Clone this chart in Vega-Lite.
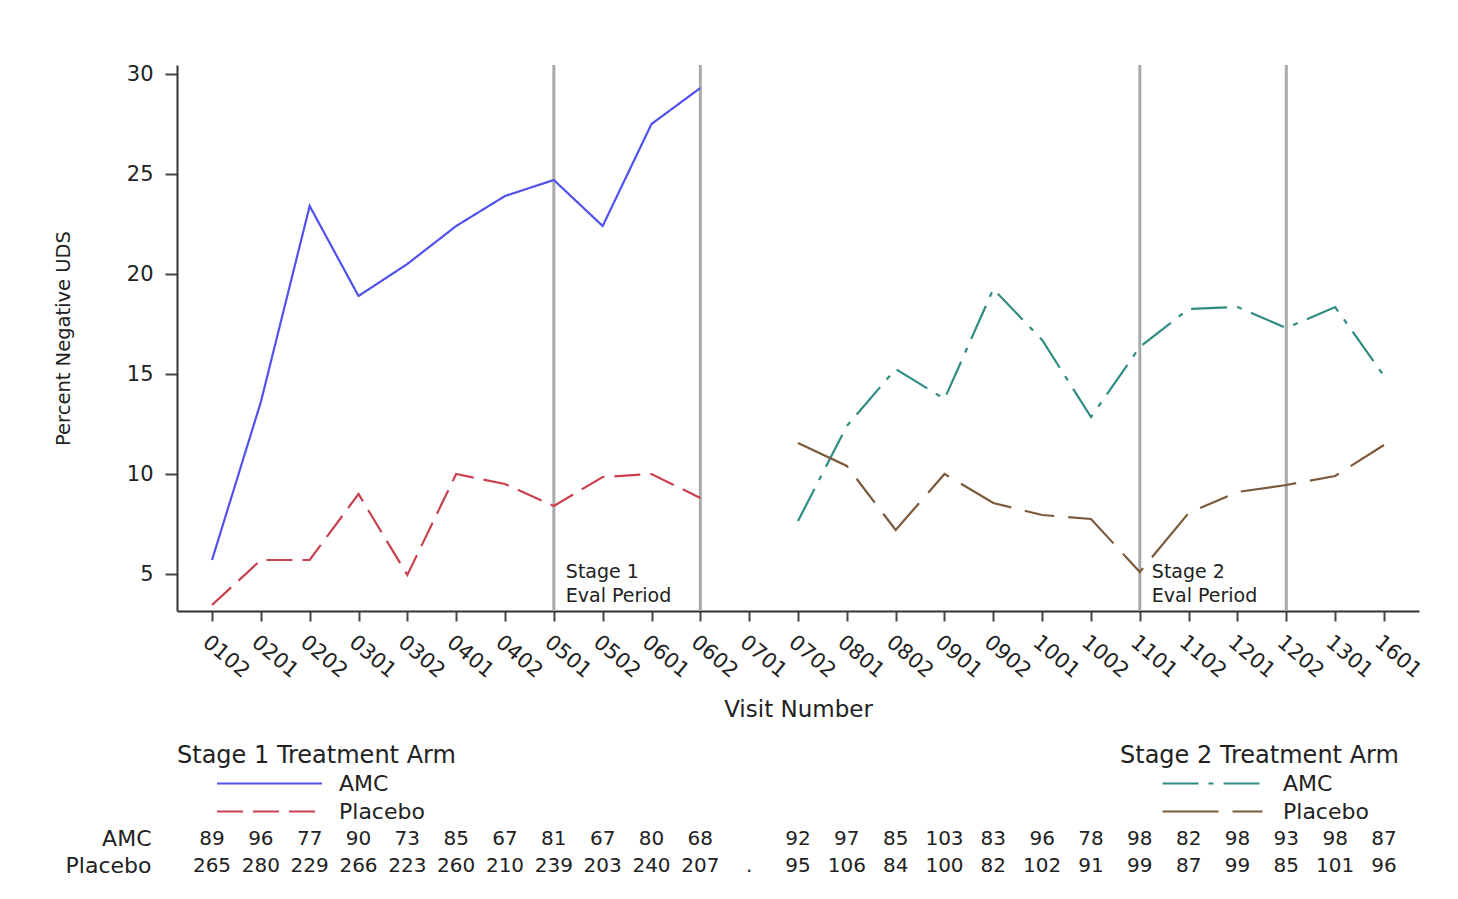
{
  "$schema": "https://vega.github.io/schema/vega-lite/v6.json",
  "background": "white",
  "padding": {"left": 53, "top": 62, "right": 5, "bottom": 5},
  "spacing": 2,
  "config": {
    "font": "DejaVu Sans",
    "view": {"stroke": null},
    "axis": {
      "grid": false,
      "domainColor": "#333333",
      "domainWidth": 2,
      "tickColor": "#444444",
      "tickWidth": 2,
      "labelColor": "#222222",
      "titleColor": "#222222",
      "titleFontWeight": "normal"
    },
    "legend": {
      "orient": "none",
      "padding": 0,
      "symbolType": "M-5,0H5",
      "symbolSize": 441,
      "symbolStrokeWidth": 2,
      "labelFontSize": 22,
      "labelColor": "#222222",
      "titleFontSize": 24,
      "titleFontWeight": "normal",
      "titleColor": "#222222",
      "titleLimit": 400,
      "titlePadding": 4,
      "rowPadding": 5
    }
  },
  "datasets": {
    "pct": [
      {"stage": 1, "arm": "AMC", "visit": "0102", "pct": 5.7},
      {"stage": 1, "arm": "AMC", "visit": "0201", "pct": 13.6},
      {"stage": 1, "arm": "AMC", "visit": "0202", "pct": 23.4},
      {"stage": 1, "arm": "AMC", "visit": "0301", "pct": 18.9},
      {"stage": 1, "arm": "AMC", "visit": "0302", "pct": 20.5},
      {"stage": 1, "arm": "AMC", "visit": "0401", "pct": 22.4},
      {"stage": 1, "arm": "AMC", "visit": "0402", "pct": 23.9},
      {"stage": 1, "arm": "AMC", "visit": "0501", "pct": 24.7},
      {"stage": 1, "arm": "AMC", "visit": "0502", "pct": 22.4},
      {"stage": 1, "arm": "AMC", "visit": "0601", "pct": 27.5},
      {"stage": 1, "arm": "AMC", "visit": "0602", "pct": 29.3},
      {"stage": 1, "arm": "Placebo", "visit": "0102", "pct": 3.45},
      {"stage": 1, "arm": "Placebo", "visit": "0201", "pct": 5.7},
      {"stage": 1, "arm": "Placebo", "visit": "0202", "pct": 5.7},
      {"stage": 1, "arm": "Placebo", "visit": "0301", "pct": 9.0},
      {"stage": 1, "arm": "Placebo", "visit": "0302", "pct": 4.95},
      {"stage": 1, "arm": "Placebo", "visit": "0401", "pct": 10.0},
      {"stage": 1, "arm": "Placebo", "visit": "0402", "pct": 9.5},
      {"stage": 1, "arm": "Placebo", "visit": "0501", "pct": 8.4},
      {"stage": 1, "arm": "Placebo", "visit": "0502", "pct": 9.85},
      {"stage": 1, "arm": "Placebo", "visit": "0601", "pct": 10.0},
      {"stage": 1, "arm": "Placebo", "visit": "0602", "pct": 8.8},
      {"stage": 2, "arm": "AMC", "visit": "0702", "pct": 7.65},
      {"stage": 2, "arm": "AMC", "visit": "0801", "pct": 12.4},
      {"stage": 2, "arm": "AMC", "visit": "0802", "pct": 15.25},
      {"stage": 2, "arm": "AMC", "visit": "0901", "pct": 13.75},
      {"stage": 2, "arm": "AMC", "visit": "0902", "pct": 19.25},
      {"stage": 2, "arm": "AMC", "visit": "1001", "pct": 16.7},
      {"stage": 2, "arm": "AMC", "visit": "1002", "pct": 12.85},
      {"stage": 2, "arm": "AMC", "visit": "1101", "pct": 16.35},
      {"stage": 2, "arm": "AMC", "visit": "1102", "pct": 18.25},
      {"stage": 2, "arm": "AMC", "visit": "1201", "pct": 18.35},
      {"stage": 2, "arm": "AMC", "visit": "1202", "pct": 17.3},
      {"stage": 2, "arm": "AMC", "visit": "1301", "pct": 18.35},
      {"stage": 2, "arm": "AMC", "visit": "1601", "pct": 14.9},
      {"stage": 2, "arm": "Placebo", "visit": "0702", "pct": 11.55},
      {"stage": 2, "arm": "Placebo", "visit": "0801", "pct": 10.4},
      {"stage": 2, "arm": "Placebo", "visit": "0802", "pct": 7.2},
      {"stage": 2, "arm": "Placebo", "visit": "0901", "pct": 10.0},
      {"stage": 2, "arm": "Placebo", "visit": "0902", "pct": 8.55},
      {"stage": 2, "arm": "Placebo", "visit": "1001", "pct": 7.95},
      {"stage": 2, "arm": "Placebo", "visit": "1002", "pct": 7.75},
      {"stage": 2, "arm": "Placebo", "visit": "1101", "pct": 5.1},
      {"stage": 2, "arm": "Placebo", "visit": "1102", "pct": 8.05},
      {"stage": 2, "arm": "Placebo", "visit": "1201", "pct": 9.1},
      {"stage": 2, "arm": "Placebo", "visit": "1202", "pct": 9.45},
      {"stage": 2, "arm": "Placebo", "visit": "1301", "pct": 9.9},
      {"stage": 2, "arm": "Placebo", "visit": "1601", "pct": 11.45}
    ],
    "evalLines": [
      {"visit": "0501"}, {"visit": "0602"}, {"visit": "1101"}, {"visit": "1202"}
    ],
    "evalLabels": [
      {"visit": "0501", "label": "Stage 1\nEval Period"},
      {"visit": "1101", "label": "Stage 2\nEval Period"}
    ],
    "counts": [
      {"row": "AMC", "visit": "0102", "n": "89"},
      {"row": "AMC", "visit": "0201", "n": "96"},
      {"row": "AMC", "visit": "0202", "n": "77"},
      {"row": "AMC", "visit": "0301", "n": "90"},
      {"row": "AMC", "visit": "0302", "n": "73"},
      {"row": "AMC", "visit": "0401", "n": "85"},
      {"row": "AMC", "visit": "0402", "n": "67"},
      {"row": "AMC", "visit": "0501", "n": "81"},
      {"row": "AMC", "visit": "0502", "n": "67"},
      {"row": "AMC", "visit": "0601", "n": "80"},
      {"row": "AMC", "visit": "0602", "n": "68"},
      {"row": "AMC", "visit": "0702", "n": "92"},
      {"row": "AMC", "visit": "0801", "n": "97"},
      {"row": "AMC", "visit": "0802", "n": "85"},
      {"row": "AMC", "visit": "0901", "n": "103"},
      {"row": "AMC", "visit": "0902", "n": "83"},
      {"row": "AMC", "visit": "1001", "n": "96"},
      {"row": "AMC", "visit": "1002", "n": "78"},
      {"row": "AMC", "visit": "1101", "n": "98"},
      {"row": "AMC", "visit": "1102", "n": "82"},
      {"row": "AMC", "visit": "1201", "n": "98"},
      {"row": "AMC", "visit": "1202", "n": "93"},
      {"row": "AMC", "visit": "1301", "n": "98"},
      {"row": "AMC", "visit": "1601", "n": "87"},
      {"row": "Placebo", "visit": "0102", "n": "265"},
      {"row": "Placebo", "visit": "0201", "n": "280"},
      {"row": "Placebo", "visit": "0202", "n": "229"},
      {"row": "Placebo", "visit": "0301", "n": "266"},
      {"row": "Placebo", "visit": "0302", "n": "223"},
      {"row": "Placebo", "visit": "0401", "n": "260"},
      {"row": "Placebo", "visit": "0402", "n": "210"},
      {"row": "Placebo", "visit": "0501", "n": "239"},
      {"row": "Placebo", "visit": "0502", "n": "203"},
      {"row": "Placebo", "visit": "0601", "n": "240"},
      {"row": "Placebo", "visit": "0602", "n": "207"},
      {"row": "Placebo", "visit": "0701", "n": "."},
      {"row": "Placebo", "visit": "0702", "n": "95"},
      {"row": "Placebo", "visit": "0801", "n": "106"},
      {"row": "Placebo", "visit": "0802", "n": "84"},
      {"row": "Placebo", "visit": "0901", "n": "100"},
      {"row": "Placebo", "visit": "0902", "n": "82"},
      {"row": "Placebo", "visit": "1001", "n": "102"},
      {"row": "Placebo", "visit": "1002", "n": "91"},
      {"row": "Placebo", "visit": "1101", "n": "99"},
      {"row": "Placebo", "visit": "1102", "n": "87"},
      {"row": "Placebo", "visit": "1201", "n": "99"},
      {"row": "Placebo", "visit": "1202", "n": "85"},
      {"row": "Placebo", "visit": "1301", "n": "101"},
      {"row": "Placebo", "visit": "1601", "n": "96"}
    ]
  },
  "vconcat": [
    {
      "width": 1242,
      "height": 546,
      "encoding": {
        "x": {
          "field": "visit",
          "type": "ordinal",
          "scale": {
            "type": "point",
            "padding": 0.717,
            "domain": ["0102", "0201", "0202", "0301", "0302", "0401", "0402", "0501", "0502", "0601", "0602", "0701", "0702", "0801", "0802", "0901", "0902", "1001", "1002", "1101", "1102", "1201", "1202", "1301", "1601"]
          },
          "axis": {
            "title": "Visit Number",
            "titleFontSize": 23,
            "titlePadding": 17,
            "labelFontSize": 21,
            "labelAngle": 40,
            "labelAlign": "left",
            "labelBaseline": "top",
            "labelPadding": 10,
            "tickSize": 10
          }
        }
      },
      "layer": [
        {
          "data": {"name": "evalLines"},
          "mark": {"type": "rule", "color": "#a9a9a9", "strokeWidth": 3}
        },
        {
          "data": {"name": "pct"},
          "transform": [{"filter": "datum.stage === 1"}],
          "mark": {"type": "line", "strokeWidth": 2.2},
          "encoding": {
            "y": {
              "field": "pct",
              "type": "quantitative",
              "scale": {"domain": [3.15, 30.45], "nice": false, "zero": false},
              "axis": {
                "title": "Percent Negative UDS",
                "titleFontSize": 19.5,
                "titlePadding": 53,
                "values": [5, 10, 15, 20, 25, 30],
                "labelFontSize": 21,
                "labelPadding": 12,
                "tickSize": 12
              }
            },
            "color": {
              "field": "arm",
              "type": "nominal",
              "scale": {"domain": ["AMC", "Placebo"], "range": ["#5151ee", "#c9414f"]},
              "legend": {"title": "Stage 1 Treatment Arm", "legendX": 0, "legendY": 679, "symbolType": "M-5,0H5", "symbolSize": 441, "symbolOffset": 81, "labelOffset": 58}
            },
            "strokeDash": {
              "field": "arm",
              "type": "nominal",
              "scale": {"domain": ["AMC", "Placebo"], "range": [[1, 0], [26, 10]]},
              "legend": {"title": "Stage 1 Treatment Arm", "legendX": 0, "legendY": 679, "symbolType": "M-5,0H5", "symbolSize": 441, "symbolOffset": 81, "labelOffset": 58}
            }
          }
        },
        {
          "data": {"name": "pct"},
          "transform": [{"filter": "datum.stage === 2"}],
          "mark": {"type": "line", "strokeWidth": 2.2},
          "encoding": {
            "y": {"field": "pct", "type": "quantitative"},
            "color": {
              "field": "arm",
              "type": "nominal",
              "scale": {"domain": ["AMC", "Placebo"], "range": ["#2e8c82", "#7b5a3a"]},
              "legend": {"title": "Stage 2 Treatment Arm", "legendX": 943, "legendY": 679, "symbolType": "M-5,0H5", "symbolSize": 441, "symbolOffset": 83.5, "labelOffset": 56.5}
            },
            "strokeDash": {
              "field": "arm",
              "type": "nominal",
              "scale": {"domain": ["AMC", "Placebo"], "range": [[36, 10, 5, 10], [56, 14, 30, 14]]},
              "legend": {"title": "Stage 2 Treatment Arm", "legendX": 943, "legendY": 679, "symbolType": "M-5,0H5", "symbolSize": 441, "symbolOffset": 83.5, "labelOffset": 56.5}
            }
          }
        },
        {
          "data": {"name": "evalLabels"},
          "mark": {
            "type": "text",
            "align": "left",
            "baseline": "alphabetic",
            "lineBreak": "\n",
            "lineHeight": 24,
            "dx": 12,
            "dy": -33,
            "fontSize": 19,
            "color": "#222222"
          },
          "encoding": {
            "y": {"datum": 3.15, "type": "quantitative"},
            "text": {"field": "label", "type": "nominal"}
          }
        }
      ],
      "resolve": {"scale": {"color": "independent", "strokeDash": "independent"}}
    },
    {
      "width": 1242,
      "height": 54,
      "data": {"name": "counts"},
      "mark": {"type": "text", "fontSize": 20, "color": "#222222"},
      "encoding": {
        "x": {
          "field": "visit",
          "type": "ordinal",
          "scale": {
            "type": "point",
            "padding": 0.717,
            "domain": ["0102", "0201", "0202", "0301", "0302", "0401", "0402", "0501", "0502", "0601", "0602", "0701", "0702", "0801", "0802", "0901", "0902", "1001", "1002", "1101", "1102", "1201", "1202", "1301", "1601"]
          },
          "axis": null
        },
        "y": {
          "field": "row",
          "type": "ordinal",
          "scale": {"type": "point", "domain": ["AMC", "Placebo"], "padding": 0.5},
          "axis": {
            "title": null,
            "domain": false,
            "ticks": false,
            "labelPadding": 26,
            "labelFontSize": 22
          }
        },
        "text": {"field": "n", "type": "nominal"}
      }
    }
  ]
}
